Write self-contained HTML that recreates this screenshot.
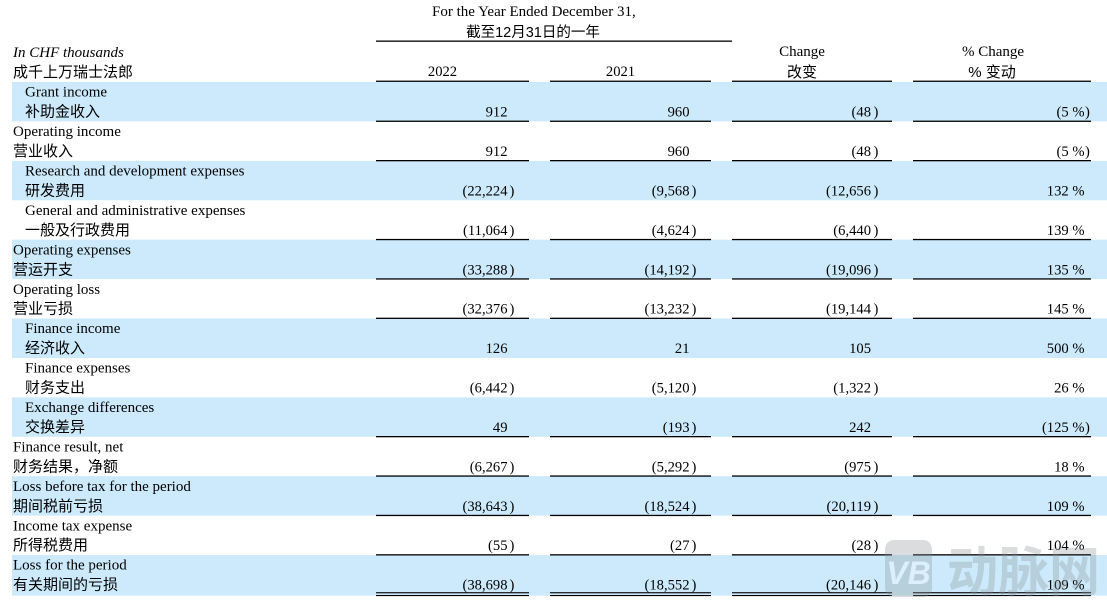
<!DOCTYPE html>
<html><head><meta charset="utf-8"><style>
html,body{margin:0;padding:0;background:#fff;}
svg{display:block;}
.e{font-family:"Liberation Serif","Noto Serif CJK SC",serif;font-size:15px;fill:#000;}
.c{font-family:"Liberation Sans","Noto Sans CJK SC",sans-serif;font-size:15px;fill:#000;}
.n{font-family:"Liberation Serif",serif;font-size:14.6px;fill:#000;}
</style></head><body>
<svg width="1107" height="606" viewBox="0 0 1107 606" xmlns="http://www.w3.org/2000/svg">
<rect width="1107" height="606" fill="#fff"/>
<!-- blue bands -->
<g fill="#cceafb">
<rect x="12" y="82" width="1095" height="39.42"/>
<rect x="12" y="160.84" width="1095" height="39.42"/>
<rect x="12" y="239.68" width="1095" height="39.42"/>
<rect x="12" y="318.52" width="1095" height="39.42"/>
<rect x="12" y="397.36" width="1095" height="39.42"/>
<rect x="12" y="476.20" width="1095" height="39.42"/>
<rect x="12" y="555.04" width="1095" height="40.6"/>
</g>
<!-- header -->
<text class="e" x="432" y="16">For the Year Ended December 31,</text>
<text class="c" x="533" y="37" text-anchor="middle" style="font-size:14.5px">截至12月31日的一年</text>
<rect x="376" y="40.5" width="356" height="1.3" fill="#000"/>
<text class="e" x="13" y="57" font-style="italic">In CHF thousands</text>
<text class="c" x="13" y="77">成千上万瑞士法郎</text>
<text class="n" x="442.5" y="76" text-anchor="middle">2022</text>
<text class="n" x="620.5" y="76" text-anchor="middle">2021</text>
<text class="e" x="802" y="56" text-anchor="middle">Change</text>
<text class="c" x="802" y="77" text-anchor="middle">改变</text>
<text class="e" x="993" y="56" text-anchor="middle">% Change</text>
<text class="c" x="992" y="77" text-anchor="middle">% 变动</text>
<g fill="#000">
<rect x="376" y="80.6" width="153" height="1.3"/>
<rect x="550" y="80.6" width="161" height="1.3"/>
<rect x="732" y="80.6" width="160" height="1.3"/>
<rect x="913" y="80.6" width="178" height="1.3"/>
</g>
<!-- row lines -->
<g fill="#000">
<rect x="376" y="120.6" width="153" height="1.3"/><rect x="550" y="120.6" width="161" height="1.3"/><rect x="732" y="120.6" width="160" height="1.3"/><rect x="913" y="120.6" width="178" height="1.3"/>
<rect x="376" y="160.0" width="153" height="1.3"/><rect x="550" y="160.0" width="161" height="1.3"/><rect x="732" y="160.0" width="160" height="1.3"/><rect x="913" y="160.0" width="178" height="1.3"/>
<rect x="376" y="238.9" width="153" height="1.3"/><rect x="550" y="238.9" width="161" height="1.3"/><rect x="732" y="238.9" width="160" height="1.3"/><rect x="913" y="238.9" width="178" height="1.3"/>
<rect x="376" y="278.3" width="153" height="1.3"/><rect x="550" y="278.3" width="161" height="1.3"/><rect x="732" y="278.3" width="160" height="1.3"/><rect x="913" y="278.3" width="178" height="1.3"/>
<rect x="376" y="317.7" width="153" height="1.3"/><rect x="550" y="317.7" width="161" height="1.3"/><rect x="732" y="317.7" width="160" height="1.3"/><rect x="913" y="317.7" width="178" height="1.3"/>
<rect x="376" y="436.0" width="153" height="1.3"/><rect x="550" y="436.0" width="161" height="1.3"/><rect x="732" y="436.0" width="160" height="1.3"/><rect x="913" y="436.0" width="178" height="1.3"/>
<rect x="376" y="475.4" width="153" height="1.3"/><rect x="550" y="475.4" width="161" height="1.3"/><rect x="732" y="475.4" width="160" height="1.3"/><rect x="913" y="475.4" width="178" height="1.3"/>
<rect x="376" y="514.8" width="153" height="1.3"/><rect x="550" y="514.8" width="161" height="1.3"/><rect x="732" y="514.8" width="160" height="1.3"/><rect x="913" y="514.8" width="178" height="1.3"/>
<rect x="376" y="554.2" width="153" height="1.3"/><rect x="550" y="554.2" width="161" height="1.3"/><rect x="732" y="554.2" width="160" height="1.3"/><rect x="913" y="554.2" width="178" height="1.3"/>
<rect x="376" y="592.2" width="153" height="1.1"/><rect x="550" y="592.2" width="161" height="1.1"/><rect x="732" y="592.2" width="160" height="1.1"/><rect x="913" y="592.2" width="178" height="1.1"/>
<rect x="376" y="595.0" width="153" height="1.1"/><rect x="550" y="595.0" width="161" height="1.1"/><rect x="732" y="595.0" width="160" height="1.1"/><rect x="913" y="595.0" width="178" height="1.1"/>
</g>

<!-- Labels -->
<text class="e" x="25" y="96.7">Grant income</text><text class="c" x="25" y="116.6">补助金收入</text>
<text class="e" x="13" y="136.1">Operating income</text><text class="c" x="13" y="156.0">营业收入</text>
<text class="e" x="25" y="175.5">Research and development expenses</text><text class="c" x="25" y="195.4">研发费用</text>
<text class="e" x="25" y="215.0">General and administrative expenses</text><text class="c" x="25" y="234.9">一般及行政费用</text>
<text class="e" x="13" y="254.4">Operating expenses</text><text class="c" x="13" y="274.3">营运开支</text>
<text class="e" x="13" y="293.8">Operating loss</text><text class="c" x="13" y="313.7">营业亏损</text>
<text class="e" x="25" y="333.2">Finance income</text><text class="c" x="25" y="353.1">经济收入</text>
<text class="e" x="25" y="372.6">Finance expenses</text><text class="c" x="25" y="392.5">财务支出</text>
<text class="e" x="25" y="412.1">Exchange differences</text><text class="c" x="25" y="432.0">交换差异</text>
<text class="e" x="13" y="451.5">Finance result, net</text><text class="c" x="13" y="471.4">财务结果，净额</text>
<text class="e" x="13" y="490.9">Loss before tax for the period</text><text class="c" x="13" y="510.8">期间税前亏损</text>
<text class="e" x="13" y="530.3">Income tax expense</text><text class="c" x="13" y="550.2">所得税费用</text>
<text class="e" x="13" y="569.7">Loss for the period</text><text class="c" x="13" y="589.6">有关期间的亏损</text>

<!-- Numbers -->
<g class="n" text-anchor="end">
<text x="507.5" y="116.6">912</text><text x="689.5" y="116.6">960</text><text x="871" y="116.6">(48</text><text x="1084.5" y="116.6">(5 %</text>
<text x="507.5" y="156.0">912</text><text x="689.5" y="156.0">960</text><text x="871" y="156.0">(48</text><text x="1084.5" y="156.0">(5 %</text>
<text x="507.5" y="195.4">(22,224</text><text x="689.5" y="195.4">(9,568</text><text x="871" y="195.4">(12,656</text><text x="1084.5" y="195.4">132 %</text>
<text x="507.5" y="234.9">(11,064</text><text x="689.5" y="234.9">(4,624</text><text x="871" y="234.9">(6,440</text><text x="1084.5" y="234.9">139 %</text>
<text x="507.5" y="274.3">(33,288</text><text x="689.5" y="274.3">(14,192</text><text x="871" y="274.3">(19,096</text><text x="1084.5" y="274.3">135 %</text>
<text x="507.5" y="313.7">(32,376</text><text x="689.5" y="313.7">(13,232</text><text x="871" y="313.7">(19,144</text><text x="1084.5" y="313.7">145 %</text>
<text x="507.5" y="353.1">126</text><text x="689.5" y="353.1">21</text><text x="871" y="353.1">105</text><text x="1084.5" y="353.1">500 %</text>
<text x="507.5" y="392.5">(6,442</text><text x="689.5" y="392.5">(5,120</text><text x="871" y="392.5">(1,322</text><text x="1084.5" y="392.5">26 %</text>
<text x="507.5" y="432.0">49</text><text x="689.5" y="432.0">(193</text><text x="871" y="432.0">242</text><text x="1084.5" y="432.0">(125 %</text>
<text x="507.5" y="471.4">(6,267</text><text x="689.5" y="471.4">(5,292</text><text x="871" y="471.4">(975</text><text x="1084.5" y="471.4">18 %</text>
<text x="507.5" y="510.8">(38,643</text><text x="689.5" y="510.8">(18,524</text><text x="871" y="510.8">(20,119</text><text x="1084.5" y="510.8">109 %</text>
<text x="507.5" y="550.2">(55</text><text x="689.5" y="550.2">(27</text><text x="871" y="550.2">(28</text><text x="1084.5" y="550.2">104 %</text>
<text x="507.5" y="589.6">(38,698</text><text x="689.5" y="589.6">(18,552</text><text x="871" y="589.6">(20,146</text><text x="1084.5" y="589.6">109 %</text>
</g>
<g class="n">
<text x="509.5" y="116.6" visibility="hidden">)</text>
<text x="873.5" y="116.6">)</text><text x="1085" y="116.6">)</text>
<text x="873.5" y="156.0">)</text><text x="1085" y="156.0">)</text>
<text x="509.5" y="195.4">)</text><text x="691.5" y="195.4">)</text><text x="873.5" y="195.4">)</text>
<text x="509.5" y="234.9">)</text><text x="691.5" y="234.9">)</text><text x="873.5" y="234.9">)</text>
<text x="509.5" y="274.3">)</text><text x="691.5" y="274.3">)</text><text x="873.5" y="274.3">)</text>
<text x="509.5" y="313.7">)</text><text x="691.5" y="313.7">)</text><text x="873.5" y="313.7">)</text>
<text x="509.5" y="392.5">)</text><text x="691.5" y="392.5">)</text><text x="873.5" y="392.5">)</text>
<text x="691.5" y="432.0">)</text><text x="1085" y="432.0">)</text>
<text x="509.5" y="471.4">)</text><text x="691.5" y="471.4">)</text><text x="873.5" y="471.4">)</text>
<text x="509.5" y="510.8">)</text><text x="691.5" y="510.8">)</text><text x="873.5" y="510.8">)</text>
<text x="509.5" y="550.2">)</text><text x="691.5" y="550.2">)</text><text x="873.5" y="550.2">)</text>
<text x="509.5" y="589.6">)</text><text x="691.5" y="589.6">)</text><text x="873.5" y="589.6">)</text>
</g>

<!-- watermark -->
<g opacity="0.3">
<rect x="885" y="540" width="47" height="57" rx="9" fill="#8a8f94"/>
<text x="908.5" y="584" text-anchor="middle" font-family="Liberation Sans, sans-serif" font-weight="bold" font-style="italic" font-size="32" fill="#ffffff">VB</text>
<text x="947" y="591" font-family="Noto Sans CJK SC, sans-serif" font-weight="bold" font-size="54" textLength="153" lengthAdjust="spacingAndGlyphs" fill="#8a8f94">动脉网</text>
</g>
</svg>
</body></html>
